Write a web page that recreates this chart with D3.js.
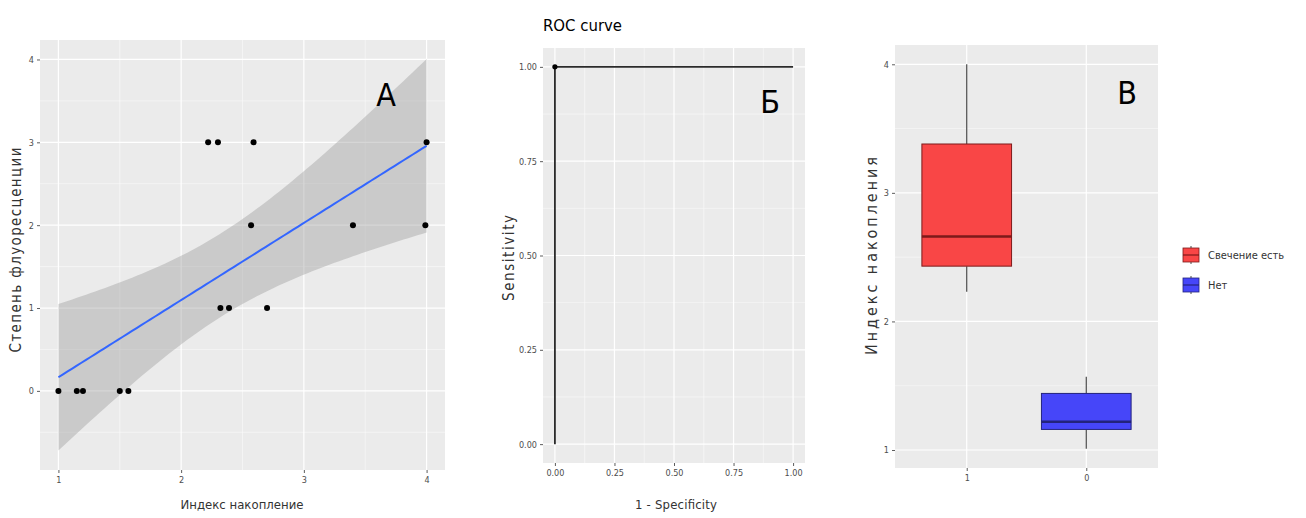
<!DOCTYPE html>
<html>
<head>
<meta charset="utf-8">
<script src="https://cdn.jsdelivr.net/npm/d3@7/dist/d3.min.js"></script>
<style>
  html, body { margin: 0; padding: 0; background: #ffffff; }
  svg { display: block; }
  text { font-family: "DejaVu Sans Condensed", "DejaVu Sans", sans-serif; }
</style>
</head>
<body>
<svg id="chart" width="1306" height="518"></svg>
<script>
// ---- Panel А: fluorescence degree vs accumulation index ----
const indexValues = [2.22, 2.30, 2.59, 4.00, 2.57, 3.40, 3.99, 2.32, 2.39, 2.70, 1.00, 1.15, 1.20, 1.50, 1.57];
const fluorValues = [3, 3, 3, 3, 2, 2, 2, 1, 1, 1, 0, 0, 0, 0, 0];
const fluorTicks = [0, 1, 2, 3, 4];
const indexTicks = [1, 2, 3, 4];

// ---- Panel Б: ROC curve ----
const rocFpr = [0, 0, 1];
const rocTpr = [0, 1, 1];
const rocTicks = [0, 0.25, 0.5, 0.75, 1];

// ---- Panel В: accumulation index by glow group ----
const groups = ["1", "0"];
const groupNames = ["Свечение есть", "Нет"];
const groupFill = ["#f94646", "#4646f9"];
const groupLine = ["#7d1a1a", "#23237d"];
const boxLow = [2.23, 1.01];
const boxQ1 = [2.43, 1.16];
const boxMedian = [2.66, 1.22];
const boxQ3 = [3.38, 1.44];
const boxHigh = [4.00, 1.57];
const boxTicks = [1, 2, 3, 4];

const svg = d3.select("#chart");
const PANEL_BG = "#ebebeb";
const TICK_COL = "#4d4d4d";
const TITLE_COL = "#333333";

// draws a grey panel with white major/minor grid lines
function panel(x, y, majorX, minorX, majorY, minorY) {
  const g = svg.append("g");
  const [x0, x1] = x.range();
  const [y0, y1] = y.range();
  g.append("rect").attr("x", x0).attr("y", y1).attr("width", x1 - x0).attr("height", y0 - y1).attr("fill", PANEL_BG);
  g.selectAll(".minx").data(minorX).join("line")
    .attr("x1", d => x(d)).attr("x2", d => x(d)).attr("y1", y0).attr("y2", y1)
    .attr("stroke", "#fafafa").attr("stroke-width", 0.6);
  g.selectAll(".miny").data(minorY).join("line")
    .attr("y1", d => y(d)).attr("y2", d => y(d)).attr("x1", x0).attr("x2", x1)
    .attr("stroke", "#fafafa").attr("stroke-width", 0.6);
  g.selectAll(".majx").data(majorX).join("line")
    .attr("x1", d => x(d)).attr("x2", d => x(d)).attr("y1", y0).attr("y2", y1)
    .attr("stroke", "#ffffff").attr("stroke-width", 1.2);
  g.selectAll(".majy").data(majorY).join("line")
    .attr("y1", d => y(d)).attr("y2", d => y(d)).attr("x1", x0).attr("x2", x1)
    .attr("stroke", "#ffffff").attr("stroke-width", 1.2);
  return g;
}

function axes(x, y, xTicks, yTicks, fmt) {
  const ax = svg.append("g").attr("transform", `translate(0,${y.range()[0]})`)
    .call(d3.axisBottom(x).tickValues(xTicks).tickSize(3).tickPadding(4).tickFormat(fmt));
  const ay = svg.append("g").attr("transform", `translate(${x.range()[0]},0)`)
    .call(d3.axisLeft(y).tickValues(yTicks).tickSize(3).tickPadding(3).tickFormat(fmt));
  [ax, ay].forEach(a => {
    a.select(".domain").remove();
    a.selectAll(".tick line").attr("stroke", "#333333").attr("stroke-width", 0.8);
    a.selectAll(".tick text").attr("fill", TICK_COL).attr("font-size", 9);
  });
}

// axis title stretched to the given length
function axisTitle(text, cx, cy, rotate, size, len) {
  const t = svg.append("text")
    .attr("transform", `translate(${cx},${cy})` + (rotate ? " rotate(-90)" : ""))
    .attr("text-anchor", "middle").attr("dominant-baseline", "middle")
    .attr("fill", TITLE_COL).attr("font-size", size).text(text);
  if (len) t.attr("textLength", len).attr("lengthAdjust", "spacing");
  return t;
}

function bigLetter(text, cx, cy) {
  svg.append("text").attr("x", cx).attr("y", cy)
    .attr("text-anchor", "middle").attr("dominant-baseline", "central")
    .attr("font-family", "Liberation Sans, Arial, sans-serif")
    .attr("font-size", 32).attr("fill", "#000").text(text);
}

// ================= Panel А =================
{
  const x = d3.scaleLinear().domain([0.85, 4.15]).range([40, 445]);
  const y = d3.scaleLinear().domain([-0.955, 4.235]).range([470, 40]);
  panel(x, y, indexTicks, [1.5, 2.5, 3.5], fluorTicks, [-0.5, 0.5, 1.5, 2.5, 3.5]);

  // least-squares fit with 95% confidence band
  const n = indexValues.length;
  const mx = d3.mean(indexValues), my = d3.mean(fluorValues);
  const sxx = d3.sum(indexValues, v => (v - mx) ** 2);
  const sxy = d3.sum(indexValues, (v, i) => (v - mx) * (fluorValues[i] - my));
  const slope = sxy / sxx, icpt = my - slope * mx;
  const sse = d3.sum(indexValues, (v, i) => (fluorValues[i] - (icpt + slope * v)) ** 2);
  const s = Math.sqrt(sse / (n - 2));
  const tCrit = 2.160; // t(0.975, df = 13)
  const [xmin, xmax] = d3.extent(indexValues);
  const grid = d3.range(0, 81).map(i => xmin + (xmax - xmin) * i / 80);
  const fit = grid.map(v => {
    const yh = icpt + slope * v;
    const se = s * Math.sqrt(1 / n + (v - mx) ** 2 / sxx);
    return { x: v, y: yh, lo: yh - tCrit * se, hi: yh + tCrit * se };
  });

  svg.append("path").datum(fit)
    .attr("d", d3.area().x(d => x(d.x)).y0(d => y(d.lo)).y1(d => y(d.hi)))
    .attr("fill", "#999999").attr("fill-opacity", 0.4);
  svg.append("path").datum(fit)
    .attr("d", d3.line().x(d => x(d.x)).y(d => y(d.y)))
    .attr("fill", "none").attr("stroke", "#3366ff").attr("stroke-width", 2);

  svg.append("g").selectAll("circle").data(indexValues).join("circle")
    .attr("cx", d => x(d)).attr("cy", (d, i) => y(fluorValues[i]))
    .attr("r", 3).attr("fill", "#000");

  axes(x, y, indexTicks, fluorTicks, d3.format("d"));
  axisTitle("Индекс накопление", 242, 505, false, 13, 123);
  axisTitle("Степень флуоресценции", 16, 250, true, 15, 205);
  bigLetter("А", x(3.67), y(3.57));
}

// ================= Panel Б =================
{
  const x = d3.scaleLinear().domain([-0.05, 1.05]).range([543, 805]);
  const y = d3.scaleLinear().domain([-0.05, 1.05]).range([463, 48]);
  panel(x, y, rocTicks, [0.125, 0.375, 0.625, 0.875], rocTicks, [0.125, 0.375, 0.625, 0.875]);

  const pts = rocFpr.map((f, i) => ({ f, t: rocTpr[i] }));
  svg.append("path").datum(pts)
    .attr("d", d3.line().x(d => x(d.f)).y(d => y(d.t)))
    .attr("fill", "none").attr("stroke", "#2b2b2b").attr("stroke-width", 1.8);
  svg.append("circle").attr("cx", x(rocFpr[1])).attr("cy", y(rocTpr[1])).attr("r", 2.6).attr("fill", "#000");

  axes(x, y, rocTicks, rocTicks, d3.format(".2f"));
  svg.append("text").attr("x", 543).attr("y", 31).attr("fill", "#000")
    .attr("font-size", 16).attr("textLength", 79).attr("lengthAdjust", "spacingAndGlyphs").text("ROC curve");
  axisTitle("1 - Specificity", 676, 505, false, 13, 82);
  axisTitle("Sensitivity", 509, 258, true, 15, 86);
  bigLetter("Б", 770, 102);
}

// ================= Panel В =================
{
  const x = d3.scalePoint().domain(groups).range([895, 1158]).padding(0.6);
  const y = d3.scaleLinear().domain([0.86, 4.15]).range([468, 45]);
  panel(x, y, groups, [], boxTicks, [1.5, 2.5, 3.5]);

  const bw = x.step() * 0.75;
  const g = svg.append("g");
  groups.forEach((k, i) => {
    const cx = x(k);
    g.append("line").attr("x1", cx).attr("x2", cx).attr("y1", y(boxHigh[i])).attr("y2", y(boxQ3[i]))
      .attr("stroke", "#4a4a4a").attr("stroke-width", 1.2);
    g.append("line").attr("x1", cx).attr("x2", cx).attr("y1", y(boxQ1[i])).attr("y2", y(boxLow[i]))
      .attr("stroke", "#4a4a4a").attr("stroke-width", 1.2);
    g.append("rect").attr("x", cx - bw / 2).attr("y", y(boxQ3[i]))
      .attr("width", bw).attr("height", y(boxQ1[i]) - y(boxQ3[i]))
      .attr("fill", groupFill[i]).attr("stroke", groupLine[i]).attr("stroke-width", 1);
    g.append("line").attr("x1", cx - bw / 2).attr("x2", cx + bw / 2)
      .attr("y1", y(boxMedian[i])).attr("y2", y(boxMedian[i]))
      .attr("stroke", groupLine[i]).attr("stroke-width", 2.4);
  });

  axes(x, y, groups, boxTicks, d => d);
  axisTitle("Индекс накопления", 872, 256, true, 16, 198);
  bigLetter("В", 1127, 93);

  // legend
  const lg = svg.append("g").attr("transform", "translate(1182,246)");
  groups.forEach((k, i) => {
    const row = lg.append("g").attr("transform", `translate(0,${i * 30})`);
    row.append("line").attr("x1", 9).attr("x2", 9).attr("y1", 0).attr("y2", 18)
      .attr("stroke", "#4a4a4a").attr("stroke-width", 1);
    row.append("rect").attr("x", 1).attr("y", 2).attr("width", 16).attr("height", 14)
      .attr("fill", groupFill[i]).attr("stroke", groupLine[i]).attr("stroke-width", 0.8);
    row.append("line").attr("x1", 1).attr("x2", 17).attr("y1", 9).attr("y2", 9)
      .attr("stroke", groupLine[i]).attr("stroke-width", 1.2);
    row.append("text").attr("x", 26).attr("y", 9).attr("dominant-baseline", "central")
      .attr("font-size", 11).attr("fill", "#333").text(groupNames[i]);
  });
}
</script>
</body>
</html>
